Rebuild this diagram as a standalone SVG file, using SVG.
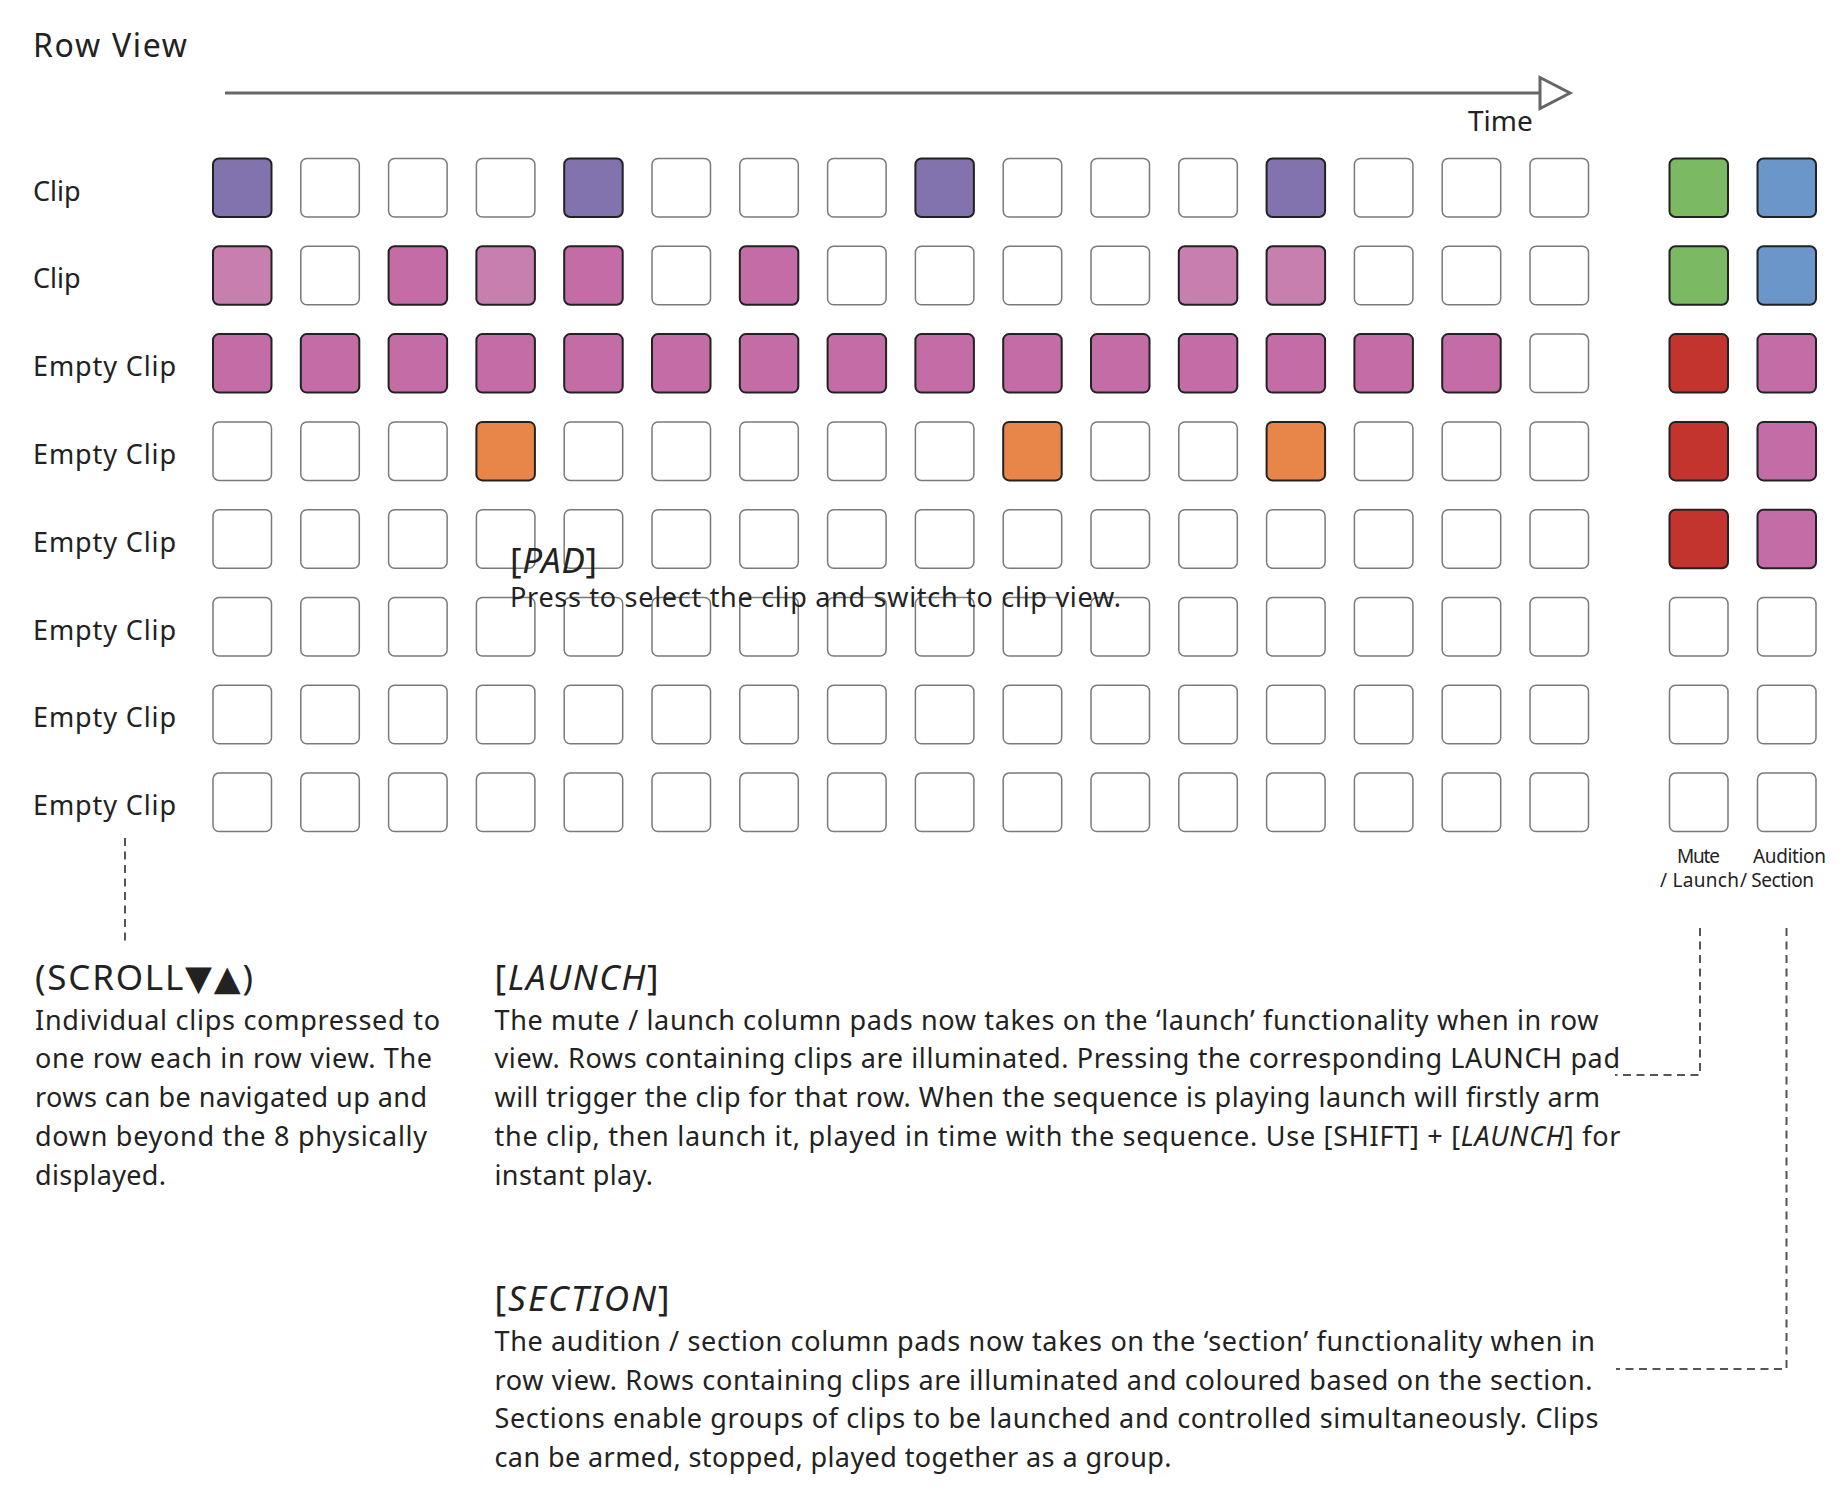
<svg xmlns="http://www.w3.org/2000/svg" width="1842" height="1494" viewBox="0 0 1842 1494">
<style>
text{font-family:"Noto Sans","DejaVu Sans",sans-serif;fill:#222;}
.t{font-size:32px;}
.lb{font-size:27px;}
.bd{font-size:27px;}
.hd{font-size:35px;}
.sm{font-size:19px;}
.it{font-style:italic;}
rect{width:58.5px;height:58.5px;rx:6px;ry:6px;stroke:#222;stroke-width:2;}
.e{fill:#fff;stroke:#7a7a7a;stroke-width:1.5;}
.pu{fill:#8273AE;}
.lp{fill:#C67FAF;}
.pk{fill:#C46CA5;}
.or{fill:#E8864A;}
.gr{fill:#7BBA62;}
.bl{fill:#6A96C9;}
.rd{fill:#C3342F;}
.dash{fill:none;stroke:#555;stroke-width:2;stroke-dasharray:8 5.5;}
</style>
<rect x="0" y="0" width="1842" height="1494" style="width:1842px;height:1494px;fill:#fff;stroke:none;rx:0;ry:0"/>
<g id="title"><text class="t" x="33" y="57" textLength="154">Row View</text></g>
<g id="connectors">
<line x1="225" y1="93" x2="1540" y2="93" stroke="#666" stroke-width="3"/>
<polygon points="1540,77.5 1570,93 1540,108.5" fill="#fff" stroke="#666" stroke-width="3" stroke-linejoin="miter"/>
<path class="dash" d="M125,838 V945"/>
<path class="dash" d="M1700,928 V1075 H1615"/>
<path class="dash" d="M1786.5,928 V1369 H1616"/>
</g>
<g id="time-label"><text x="1468" y="131" style="font-size:28px">Time</text></g>
<g id="row-labels">
<text class="lb" x="33" y="200.5">Clip</text>
<text class="lb" x="33" y="288.3">Clip</text>
<text class="lb" x="33" y="376.1" textLength="143">Empty Clip</text>
<text class="lb" x="33" y="463.9" textLength="143">Empty Clip</text>
<text class="lb" x="33" y="551.7" textLength="143">Empty Clip</text>
<text class="lb" x="33" y="639.5" textLength="143">Empty Clip</text>
<text class="lb" x="33" y="727.3" textLength="143">Empty Clip</text>
<text class="lb" x="33" y="815.1" textLength="143">Empty Clip</text>
</g>
<g id="row1">
<g id="r1c01"><rect class="pu" x="213" y="158.5"/></g>
<g id="r1c02"><rect class="e" x="300.8" y="158.5"/></g>
<g id="r1c03"><rect class="e" x="388.6" y="158.5"/></g>
<g id="r1c04"><rect class="e" x="476.4" y="158.5"/></g>
<g id="r1c05"><rect class="pu" x="564.2" y="158.5"/></g>
<g id="r1c06"><rect class="e" x="652" y="158.5"/></g>
<g id="r1c07"><rect class="e" x="739.8" y="158.5"/></g>
<g id="r1c08"><rect class="e" x="827.6" y="158.5"/></g>
<g id="r1c09"><rect class="pu" x="915.4" y="158.5"/></g>
<g id="r1c10"><rect class="e" x="1003.2" y="158.5"/></g>
<g id="r1c11"><rect class="e" x="1091" y="158.5"/></g>
<g id="r1c12"><rect class="e" x="1178.8" y="158.5"/></g>
<g id="r1c13"><rect class="pu" x="1266.6" y="158.5"/></g>
<g id="r1c14"><rect class="e" x="1354.4" y="158.5"/></g>
<g id="r1c15"><rect class="e" x="1442.2" y="158.5"/></g>
<g id="r1c16"><rect class="e" x="1530" y="158.5"/></g>
<g id="r1mute"><rect class="gr" x="1669.5" y="158.5"/></g>
<g id="r1aud"><rect class="bl" x="1757.5" y="158.5"/></g>
</g>
<g id="row2">
<g id="r2c01"><rect class="lp" x="213" y="246.3"/></g>
<g id="r2c02"><rect class="e" x="300.8" y="246.3"/></g>
<g id="r2c03"><rect class="pk" x="388.6" y="246.3"/></g>
<g id="r2c04"><rect class="lp" x="476.4" y="246.3"/></g>
<g id="r2c05"><rect class="pk" x="564.2" y="246.3"/></g>
<g id="r2c06"><rect class="e" x="652" y="246.3"/></g>
<g id="r2c07"><rect class="pk" x="739.8" y="246.3"/></g>
<g id="r2c08"><rect class="e" x="827.6" y="246.3"/></g>
<g id="r2c09"><rect class="e" x="915.4" y="246.3"/></g>
<g id="r2c10"><rect class="e" x="1003.2" y="246.3"/></g>
<g id="r2c11"><rect class="e" x="1091" y="246.3"/></g>
<g id="r2c12"><rect class="lp" x="1178.8" y="246.3"/></g>
<g id="r2c13"><rect class="lp" x="1266.6" y="246.3"/></g>
<g id="r2c14"><rect class="e" x="1354.4" y="246.3"/></g>
<g id="r2c15"><rect class="e" x="1442.2" y="246.3"/></g>
<g id="r2c16"><rect class="e" x="1530" y="246.3"/></g>
<g id="r2mute"><rect class="gr" x="1669.5" y="246.3"/></g>
<g id="r2aud"><rect class="bl" x="1757.5" y="246.3"/></g>
</g>
<g id="row3">
<g id="r3c01"><rect class="pk" x="213" y="334.1"/></g>
<g id="r3c02"><rect class="pk" x="300.8" y="334.1"/></g>
<g id="r3c03"><rect class="pk" x="388.6" y="334.1"/></g>
<g id="r3c04"><rect class="pk" x="476.4" y="334.1"/></g>
<g id="r3c05"><rect class="pk" x="564.2" y="334.1"/></g>
<g id="r3c06"><rect class="pk" x="652" y="334.1"/></g>
<g id="r3c07"><rect class="pk" x="739.8" y="334.1"/></g>
<g id="r3c08"><rect class="pk" x="827.6" y="334.1"/></g>
<g id="r3c09"><rect class="pk" x="915.4" y="334.1"/></g>
<g id="r3c10"><rect class="pk" x="1003.2" y="334.1"/></g>
<g id="r3c11"><rect class="pk" x="1091" y="334.1"/></g>
<g id="r3c12"><rect class="pk" x="1178.8" y="334.1"/></g>
<g id="r3c13"><rect class="pk" x="1266.6" y="334.1"/></g>
<g id="r3c14"><rect class="pk" x="1354.4" y="334.1"/></g>
<g id="r3c15"><rect class="pk" x="1442.2" y="334.1"/></g>
<g id="r3c16"><rect class="e" x="1530" y="334.1"/></g>
<g id="r3mute"><rect class="rd" x="1669.5" y="334.1"/></g>
<g id="r3aud"><rect class="pk" x="1757.5" y="334.1"/></g>
</g>
<g id="row4">
<g id="r4c01"><rect class="e" x="213" y="421.9"/></g>
<g id="r4c02"><rect class="e" x="300.8" y="421.9"/></g>
<g id="r4c03"><rect class="e" x="388.6" y="421.9"/></g>
<g id="r4c04"><rect class="or" x="476.4" y="421.9"/></g>
<g id="r4c05"><rect class="e" x="564.2" y="421.9"/></g>
<g id="r4c06"><rect class="e" x="652" y="421.9"/></g>
<g id="r4c07"><rect class="e" x="739.8" y="421.9"/></g>
<g id="r4c08"><rect class="e" x="827.6" y="421.9"/></g>
<g id="r4c09"><rect class="e" x="915.4" y="421.9"/></g>
<g id="r4c10"><rect class="or" x="1003.2" y="421.9"/></g>
<g id="r4c11"><rect class="e" x="1091" y="421.9"/></g>
<g id="r4c12"><rect class="e" x="1178.8" y="421.9"/></g>
<g id="r4c13"><rect class="or" x="1266.6" y="421.9"/></g>
<g id="r4c14"><rect class="e" x="1354.4" y="421.9"/></g>
<g id="r4c15"><rect class="e" x="1442.2" y="421.9"/></g>
<g id="r4c16"><rect class="e" x="1530" y="421.9"/></g>
<g id="r4mute"><rect class="rd" x="1669.5" y="421.9"/></g>
<g id="r4aud"><rect class="pk" x="1757.5" y="421.9"/></g>
</g>
<g id="row5">
<g id="r5c01"><rect class="e" x="213" y="509.7"/></g>
<g id="r5c02"><rect class="e" x="300.8" y="509.7"/></g>
<g id="r5c03"><rect class="e" x="388.6" y="509.7"/></g>
<g id="r5c04"><rect class="e" x="476.4" y="509.7"/></g>
<g id="r5c05"><rect class="e" x="564.2" y="509.7"/></g>
<g id="r5c06"><rect class="e" x="652" y="509.7"/></g>
<g id="r5c07"><rect class="e" x="739.8" y="509.7"/></g>
<g id="r5c08"><rect class="e" x="827.6" y="509.7"/></g>
<g id="r5c09"><rect class="e" x="915.4" y="509.7"/></g>
<g id="r5c10"><rect class="e" x="1003.2" y="509.7"/></g>
<g id="r5c11"><rect class="e" x="1091" y="509.7"/></g>
<g id="r5c12"><rect class="e" x="1178.8" y="509.7"/></g>
<g id="r5c13"><rect class="e" x="1266.6" y="509.7"/></g>
<g id="r5c14"><rect class="e" x="1354.4" y="509.7"/></g>
<g id="r5c15"><rect class="e" x="1442.2" y="509.7"/></g>
<g id="r5c16"><rect class="e" x="1530" y="509.7"/></g>
<g id="r5mute"><rect class="rd" x="1669.5" y="509.7"/></g>
<g id="r5aud"><rect class="pk" x="1757.5" y="509.7"/></g>
</g>
<g id="row6">
<g id="r6c01"><rect class="e" x="213" y="597.5"/></g>
<g id="r6c02"><rect class="e" x="300.8" y="597.5"/></g>
<g id="r6c03"><rect class="e" x="388.6" y="597.5"/></g>
<g id="r6c04"><rect class="e" x="476.4" y="597.5"/></g>
<g id="r6c05"><rect class="e" x="564.2" y="597.5"/></g>
<g id="r6c06"><rect class="e" x="652" y="597.5"/></g>
<g id="r6c07"><rect class="e" x="739.8" y="597.5"/></g>
<g id="r6c08"><rect class="e" x="827.6" y="597.5"/></g>
<g id="r6c09"><rect class="e" x="915.4" y="597.5"/></g>
<g id="r6c10"><rect class="e" x="1003.2" y="597.5"/></g>
<g id="r6c11"><rect class="e" x="1091" y="597.5"/></g>
<g id="r6c12"><rect class="e" x="1178.8" y="597.5"/></g>
<g id="r6c13"><rect class="e" x="1266.6" y="597.5"/></g>
<g id="r6c14"><rect class="e" x="1354.4" y="597.5"/></g>
<g id="r6c15"><rect class="e" x="1442.2" y="597.5"/></g>
<g id="r6c16"><rect class="e" x="1530" y="597.5"/></g>
<g id="r6mute"><rect class="e" x="1669.5" y="597.5"/></g>
<g id="r6aud"><rect class="e" x="1757.5" y="597.5"/></g>
</g>
<g id="row7">
<g id="r7c01"><rect class="e" x="213" y="685.3"/></g>
<g id="r7c02"><rect class="e" x="300.8" y="685.3"/></g>
<g id="r7c03"><rect class="e" x="388.6" y="685.3"/></g>
<g id="r7c04"><rect class="e" x="476.4" y="685.3"/></g>
<g id="r7c05"><rect class="e" x="564.2" y="685.3"/></g>
<g id="r7c06"><rect class="e" x="652" y="685.3"/></g>
<g id="r7c07"><rect class="e" x="739.8" y="685.3"/></g>
<g id="r7c08"><rect class="e" x="827.6" y="685.3"/></g>
<g id="r7c09"><rect class="e" x="915.4" y="685.3"/></g>
<g id="r7c10"><rect class="e" x="1003.2" y="685.3"/></g>
<g id="r7c11"><rect class="e" x="1091" y="685.3"/></g>
<g id="r7c12"><rect class="e" x="1178.8" y="685.3"/></g>
<g id="r7c13"><rect class="e" x="1266.6" y="685.3"/></g>
<g id="r7c14"><rect class="e" x="1354.4" y="685.3"/></g>
<g id="r7c15"><rect class="e" x="1442.2" y="685.3"/></g>
<g id="r7c16"><rect class="e" x="1530" y="685.3"/></g>
<g id="r7mute"><rect class="e" x="1669.5" y="685.3"/></g>
<g id="r7aud"><rect class="e" x="1757.5" y="685.3"/></g>
</g>
<g id="row8">
<g id="r8c01"><rect class="e" x="213" y="773.1"/></g>
<g id="r8c02"><rect class="e" x="300.8" y="773.1"/></g>
<g id="r8c03"><rect class="e" x="388.6" y="773.1"/></g>
<g id="r8c04"><rect class="e" x="476.4" y="773.1"/></g>
<g id="r8c05"><rect class="e" x="564.2" y="773.1"/></g>
<g id="r8c06"><rect class="e" x="652" y="773.1"/></g>
<g id="r8c07"><rect class="e" x="739.8" y="773.1"/></g>
<g id="r8c08"><rect class="e" x="827.6" y="773.1"/></g>
<g id="r8c09"><rect class="e" x="915.4" y="773.1"/></g>
<g id="r8c10"><rect class="e" x="1003.2" y="773.1"/></g>
<g id="r8c11"><rect class="e" x="1091" y="773.1"/></g>
<g id="r8c12"><rect class="e" x="1178.8" y="773.1"/></g>
<g id="r8c13"><rect class="e" x="1266.6" y="773.1"/></g>
<g id="r8c14"><rect class="e" x="1354.4" y="773.1"/></g>
<g id="r8c15"><rect class="e" x="1442.2" y="773.1"/></g>
<g id="r8c16"><rect class="e" x="1530" y="773.1"/></g>
<g id="r8mute"><rect class="e" x="1669.5" y="773.1"/></g>
<g id="r8aud"><rect class="e" x="1757.5" y="773.1"/></g>
</g>
<g id="column-labels">
<text class="sm" x="1677" y="863" textLength="43">Mute</text>
<text class="sm" x="1753" y="863" textLength="73">Audition</text>
<text class="sm" x="1660" y="886.5" textLength="79">/ Launch</text>
<text class="sm" x="1740" y="886.5" textLength="74">/ Section</text>
</g>
<g id="pad-note">
<text class="hd" x="510" y="573" textLength="87">[<tspan class="it">PAD</tspan>]</text>
<text class="bd" x="510" y="607" textLength="611">Press to select the clip and switch to clip view.</text>
</g>
<g id="scroll-note">
<text class="hd" x="35" y="990" textLength="218">(SCROLL▼▲)</text>
<text class="bd" x="35" y="1029.5" textLength="405">Individual clips compressed to</text>
<text class="bd" x="35" y="1068.3" textLength="397">one row each in row view. The</text>
<text class="bd" x="35" y="1107.1" textLength="392">rows can be navigated up and</text>
<text class="bd" x="35" y="1145.9" textLength="392">down beyond the 8 physically</text>
<text class="bd" x="35" y="1184.7" textLength="131">displayed.</text>
</g>
<g id="launch-note">
<text class="hd" x="494.5" y="990" textLength="164">[<tspan class="it">LAUNCH</tspan>]</text>
<text class="bd" x="494.5" y="1029.5" textLength="1104">The mute / launch column pads now takes on the ‘launch’ functionality when in row</text>
<text class="bd" x="494.5" y="1068.3" textLength="1125.5">view. Rows containing clips are illuminated. Pressing the corresponding LAUNCH pad</text>
<text class="bd" x="494.5" y="1107.1" textLength="1105.5">will trigger the clip for that row. When the sequence is playing launch will firstly arm</text>
<text class="bd" x="494.5" y="1145.9" textLength="1126">the clip, then launch it, played in time with the sequence. Use [SHIFT] + [<tspan class="it">LAUNCH</tspan>] for</text>
<text class="bd" x="494.5" y="1184.7" textLength="158.5">instant play.</text>
</g>
<g id="section-note">
<text class="hd" x="494.5" y="1311" textLength="175">[<tspan class="it">SECTION</tspan>]</text>
<text class="bd" x="494.5" y="1351" textLength="1100.5">The audition / section column pads now takes on the ‘section’ functionality when in</text>
<text class="bd" x="494.5" y="1389.5" textLength="1098">row view. Rows containing clips are illuminated and coloured based on the section.</text>
<text class="bd" x="494.5" y="1428" textLength="1104">Sections enable groups of clips to be launched and controlled simultaneously. Clips</text>
<text class="bd" x="494.5" y="1466.5" textLength="677">can be armed, stopped, played together as a group.</text>
</g>
</svg>
